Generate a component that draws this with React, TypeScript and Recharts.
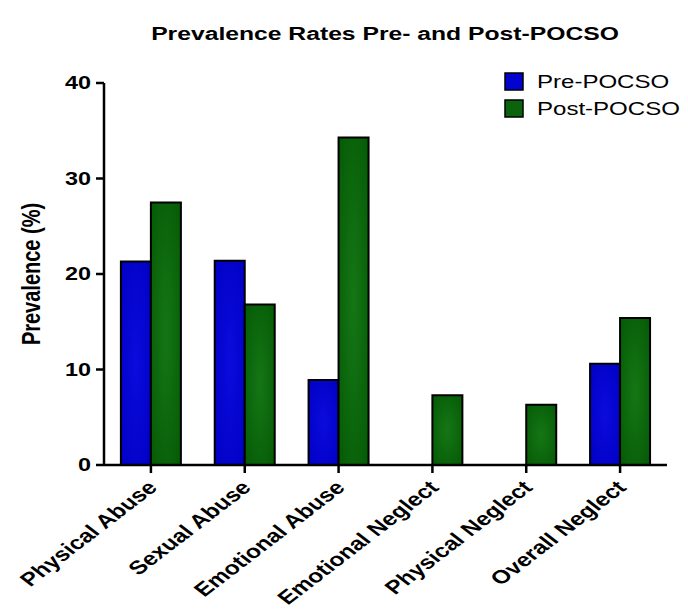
import React from 'react';
import { BarChart, Bar, XAxis, YAxis } from 'recharts';

const categories = [
  'Physical Abuse',
  'Sexual Abuse',
  'Emotional Abuse',
  'Emotional Neglect',
  'Physical Neglect',
  'Overall Neglect',
];
const prePocso = [21.3, 21.4, 8.9, 0, 0, 10.6];
const postPocso = [27.5, 16.8, 34.3, 7.3, 6.3, 15.4];
const yTicks = [0, 10, 20, 30, 40];

const seriesInfo = [
  { key: 'pre', label: 'Pre-POCSO', color: '#0303D0' },
  { key: 'post', label: 'Post-POCSO', color: '#0B630B' },
];

const data = categories.map((name, i) => ({
  name,
  pre: prePocso[i],
  post: postPocso[i],
}));

const FONT = 'Arial, "Liberation Sans", sans-serif';
// the source picture is stretched sideways, text is widened to match
const SX = 1.3;

const XTick = (props: any) => {
  const { x, y, payload } = props;
  return (
    <text
      transform={`translate(${x - 5},${y + 4}) scale(${SX},1) rotate(-45)`}
      x={0}
      y={0}
      dy="0.72em"
      textAnchor="end"
      fontFamily={FONT}
      fontWeight="bold"
      fontSize={19}
      fill="#000"
    >
      {payload.value}
    </text>
  );
};

const YTick = (props: any) => {
  const { x, y, payload } = props;
  return (
    <text
      transform={`translate(${x - 3},${y}) scale(${SX},1)`}
      x={0}
      y={0}
      dy="0.36em"
      textAnchor="end"
      fontFamily={FONT}
      fontWeight="bold"
      fontSize={18}
      fill="#000"
    >
      {payload.value}
    </text>
  );
};

const YLabel = () => (
  <text
    transform={`translate(40,274) scale(${SX},1) rotate(-90)`}
    x={0}
    y={0}
    textAnchor="middle"
    fontFamily={FONT}
    fontWeight="bold"
    fontSize={20}
    fill="#000"
  >
    Prevalence (%)
  </text>
);

export default function App() {
  return (
    <div style={{ position: 'absolute', left: 0, top: 0, width: 688, height: 609, background: '#fff' }}>
      <BarChart
        width={688}
        height={609}
        data={data}
        margin={{ top: 83, right: 21, left: 0, bottom: 0 }}
        barCategoryGap="18%"
        barGap={0}
      >
        <defs>
          <radialGradient id="gBlue" cx="50%" cy="50%" r="70%">
            <stop offset="0%" stopColor="#0B0BDD" />
            <stop offset="100%" stopColor="#0000C4" />
          </radialGradient>
          <radialGradient id="gGreen" cx="50%" cy="50%" r="70%">
            <stop offset="0%" stopColor="#157615" />
            <stop offset="100%" stopColor="#055A05" />
          </radialGradient>
        </defs>
        <XAxis
          dataKey="name"
          height={144}
          interval={0}
          tick={<XTick />}
          tickSize={8}
          axisLine={{ stroke: '#000', strokeWidth: 2.5 }}
          tickLine={{ stroke: '#000', strokeWidth: 2.5 }}
        />
        <YAxis
          width={104}
          domain={[0, 40]}
          ticks={yTicks}
          tick={<YTick />}
          tickSize={8}
          axisLine={{ stroke: '#000', strokeWidth: 2.5 }}
          tickLine={{ stroke: '#000', strokeWidth: 2.5 }}
          label={<YLabel />}
        />
        <Bar
          dataKey="pre"
          name="Pre-POCSO"
          fill="url(#gBlue)"
          stroke="#000"
          strokeWidth={2}
          isAnimationActive={false}
        />
        <Bar
          dataKey="post"
          name="Post-POCSO"
          fill="url(#gGreen)"
          stroke="#000"
          strokeWidth={2}
          isAnimationActive={false}
        />
      </BarChart>
      <svg
        width={688}
        height={609}
        style={{ position: 'absolute', left: 0, top: 0, pointerEvents: 'none' }}
      >
        <text
          transform={`translate(385,40) scale(${SX},1)`}
          x={0}
          y={0}
          textAnchor="middle"
          fontFamily={FONT}
          fontWeight="bold"
          fontSize={19}
          fill="#000"
        >
          Prevalence Rates Pre- and Post-POCSO
        </text>
        {seriesInfo.map((s, i) => (
          <g key={s.key}>
            <rect
              x={505}
              y={73 + i * 27}
              width={18}
              height={17}
              fill={s.color}
              stroke="#000"
              strokeWidth={1.5}
            />
            <text
              transform={`translate(537,${88 + i * 27}) scale(${SX},1)`}
              x={0}
              y={0}
              fontFamily={FONT}
              fontSize={18.5}
              fill="#000"
            >
              {s.label}
            </text>
          </g>
        ))}
      </svg>
    </div>
  );
}
